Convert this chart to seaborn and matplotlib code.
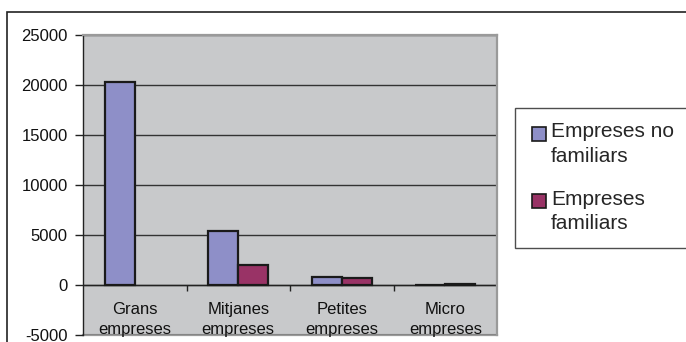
import matplotlib
matplotlib.use("Agg")
import matplotlib.pyplot as plt
from matplotlib.patches import Rectangle
from matplotlib.legend_handler import HandlerPatch
import numpy as np
import pandas as pd
import seaborn as sns

# Data
categories = ["Grans\nempreses", "Mitjanes\nempreses", "Petites\nempreses", "Micro\nempreses"]
series_names = ["Empreses no\nfamiliars", "Empreses\nfamiliars"]
no_familiars = [20350, 5400, 760, 30]
familiars = [np.nan, 1970, 740, 150]
y_ticks = [-5000, 0, 5000, 10000, 15000, 20000, 25000]

df = pd.DataFrame({
    "categoria": categories * 2,
    "serie": [series_names[0]] * 4 + [series_names[1]] * 4,
    "valor": no_familiars + familiars,
})

sns.set_theme(style="white")
plt.rcParams["font.family"] = ["Liberation Sans", "DejaVu Sans"]

W, H = 686, 342
fig = plt.figure(figsize=(W / 100, H / 100), dpi=100)
ax = fig.add_axes([83 / W, (H - 335) / H, (497 - 83) / W, (335 - 35) / H])

palette = {series_names[0]: "#8E8FC8", series_names[1]: "#993366"}
sns.barplot(data=df, x="categoria", y="valor", hue="serie", order=categories,
            hue_order=series_names, palette=palette, width=0.58, gap=0,
            edgecolor="#1a1a1a", linewidth=1.6, saturation=1, ax=ax,
            legend=True, zorder=3)

ax.set_ylim(-5000, 25000)
ax.set_xlim(-0.5, 3.5)
ax.set_yticks(y_ticks)
ax.set_yticklabels([str(v) for v in y_ticks], fontsize=12, color="#111111")
ax.set_xticks(range(len(categories)))
ax.set_xticklabels(categories, fontsize=12, color="#111111", linespacing=1.36)
ax.set_xlabel("")
ax.set_ylabel("")

# Plot area, grid and axes
ax.set_facecolor("#C8C9CB")
ax.yaxis.grid(True, color="#333333", linewidth=1.0, zorder=1)
ax.set_axisbelow(True)
for side in ["top", "right", "bottom"]:
    ax.spines[side].set_visible(True)
    ax.spines[side].set_color("#9a9a9a")
    ax.spines[side].set_linewidth(1.6)
ax.spines["bottom"].set_zorder(0.3)
ax.spines["left"].set_color("#222222")
ax.spines["left"].set_linewidth(1.0)
ax.tick_params(axis="y", length=6, width=1.0, color="#222222", pad=5, left=True)
ax.tick_params(axis="x", length=0, pad=-23.5)

# Category axis at zero with separator ticks
ax.axhline(0, color="#222222", linewidth=1.0, zorder=2)
ax.vlines([0.5, 1.5, 2.5, 3.5], -550, 0, color="#222222", linewidth=1.0, zorder=2)

# Legend: square marker beside the first line of each label
def top_square(legend, orig_handle, xdescent, ydescent, width, height, fontsize):
    side = 10
    return Rectangle((-xdescent + width - side, 7.9), side, side)

handles, labels = ax.get_legend_handles_labels()
leg = fig.legend(handles, labels, loc="upper left",
                 bbox_to_anchor=(515 / W, 1 - 108 / H), bbox_transform=fig.transFigure,
                 fontsize=15, frameon=True, fancybox=False, borderpad=0.69,
                 handlelength=0.80, handleheight=0.7, handletextpad=0.24,
                 labelspacing=1.14, borderaxespad=0,
                 handler_map={Rectangle: HandlerPatch(patch_func=top_square)})
for p in leg.get_patches():
    p.set_edgecolor("#1a1a1a")
    p.set_linewidth(1.2)
leg.get_frame().set_edgecolor("#222222")
leg.get_frame().set_linewidth(1.0)
for t in leg.get_texts():
    t.set_linespacing(1.37)
if ax.get_legend() is not None:
    ax.get_legend().remove()

# Outer chart border
fig.patches.append(Rectangle((6.5 / W, -0.1), 1.2, 1 - 11.5 / H + 0.1,
                             transform=fig.transFigure, fill=False,
                             edgecolor="#222222", linewidth=1.2, zorder=0))

fig.savefig("out.png", dpi=100, facecolor="white")
